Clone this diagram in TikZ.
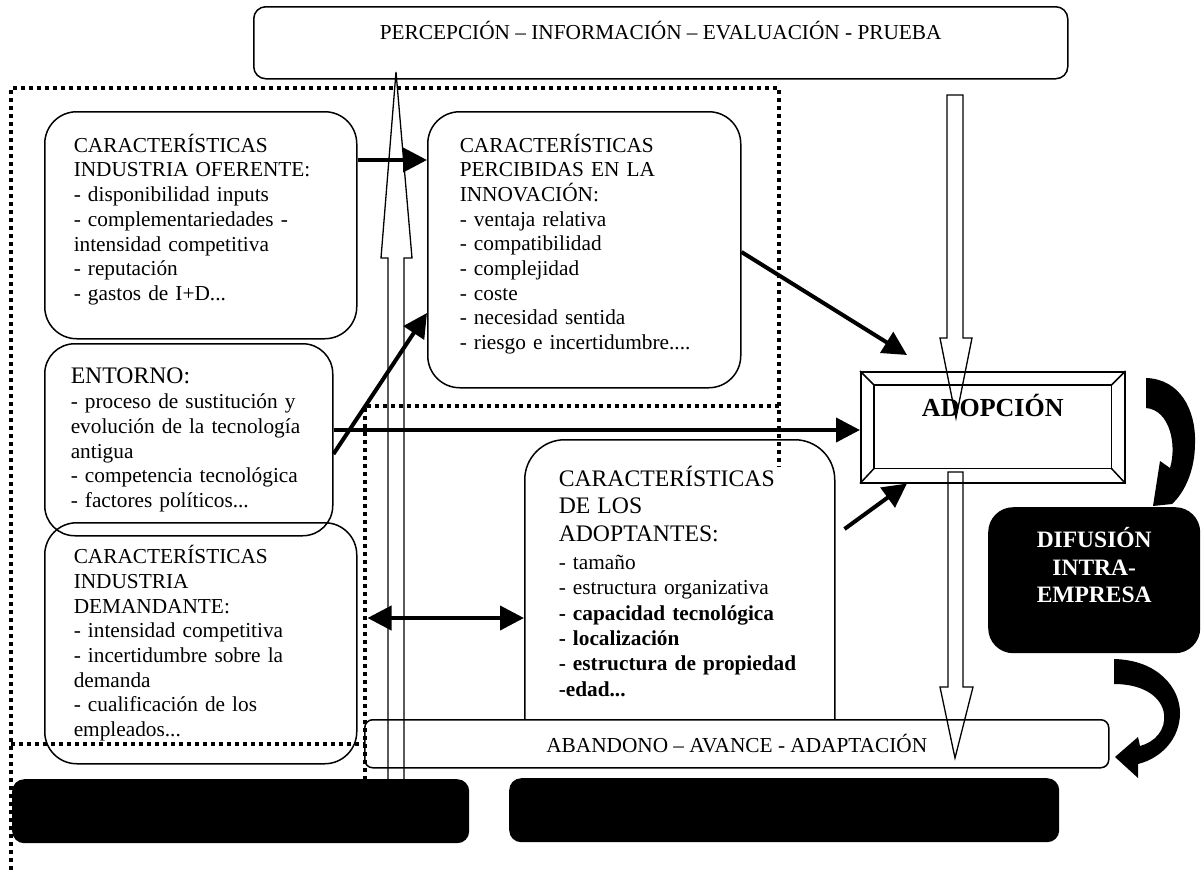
\documentclass[tikz,border=0pt]{standalone}
\usepackage{fontspec}
\setmainfont{Liberation Serif}
\usetikzlibrary{arrows.meta,positioning,calc}
\tikzset{%
    >={Triangle[width=24pt,length=24pt]},
    % Estilos de los nodos
    texto/.style = {font=\fontsize{21.3}{24.7}\selectfont},
    caja/.style = {
        texto, draw, line width=1.5pt, rounded corners=32pt,
        anchor=north west, align=left, inner ysep=0pt
    },
    banda/.style = {
        texto, draw, line width=1.5pt, rounded corners=10pt,
        anchor=north west, align=center, inner sep=0pt, fill=white
    },
    barra/.style = {fill=black, rounded corners=12pt, anchor=north west, inner sep=0pt},
    flecha/.style = {->, line width=4pt},
    hueca/.style = {draw, line width=1.3pt},
    punteado/.style = {line width=4pt, dash pattern=on 4pt off 4pt},
    curva/.style = {fill=black}
}
\begin{document}
\begin{tikzpicture}[x=1pt, y=-1pt]
\useasboundingbox (0,0) rectangle (1202,870);
% Cajas (posicion, etc.)
\node (etapas)      [banda, rounded corners=12pt, minimum width=814pt, minimum height=72pt] at (253,6)
    {PERCEPCIÓN – INFORMACIÓN – EVALUACIÓN - PRUEBA\rule[-25pt]{0pt}{25pt}};
\node (oferente)    [caja, text width=254pt, inner xsep=29pt, minimum height=227pt] at (44,111)
    {CARACTERÍSTICAS\\INDUSTRIA OFERENTE:\\- disponibilidad inputs\\- complementariedades -\\intensidad competitiva\\- reputación\\- gastos de I+D...\rule[-16pt]{0pt}{16pt}};
\node (percibidas)  [caja, text width=249pt, inner xsep=32pt, minimum height=276pt] at (427,111)
    {CARACTERÍSTICAS\\PERCIBIDAS EN LA\\INNOVACIÓN:\\- ventaja relativa\\- compatibilidad\\- complejidad\\- coste\\- necesidad sentida\\- riesgo e incertidumbre....\rule[-16pt]{0pt}{16pt}};
\node (entorno)     [caja, rounded corners=30pt, text width=236pt, inner xsep=26pt, minimum height=192pt] at (44,343)
    {{\fontsize{23.7}{27}\selectfont ENTORNO:}\\[1pt]- proceso de sustitución y\\evolución de la tecnología\\antigua\\- competencia tecnológica\\- factores políticos...};
\node (demandante)  [caja, text width=254pt, inner xsep=29pt, minimum height=241pt] at (44,522)
    {CARACTERÍSTICAS\\INDUSTRIA\\DEMANDANTE:\\- intensidad competitiva\\- incertidumbre sobre la\\demanda\\- cualificación de los\\empleados...};
\node (adoptantes)  [caja, rounded corners=40pt, text width=242pt, inner xsep=34pt, minimum height=319pt,
                     font=\fontsize{21.3}{25.4}\selectfont] at (524,439)
    {{\fontsize{23.7}{27}\selectfont CARACTERÍSTICAS}\\[2pt]{\fontsize{23.7}{27}\selectfont DE LOS}\\[2pt]{\fontsize{23.7}{27}\selectfont ADOPTANTES:}\\[2.6pt]- tamaño\\- estructura organizativa\\\textbf{- capacidad tecnológica}\\\textbf{- localización}\\\textbf{- estructura de propiedad}\\\textbf{-edad...}\rule[-36pt]{0pt}{36pt}};
\node (abandono)    [banda, rounded corners=8pt, minimum width=744pt, minimum height=48pt] at (364,719)
    {ABANDONO – AVANCE - ADAPTACIÓN};
\node (adopcion)    [draw, line width=1.5pt, anchor=north west, minimum width=264pt, minimum height=111pt,
                     inner sep=0pt, font=\fontsize{26}{30}\selectfont\bfseries] at (860,371)
    {ADOPCIÓN\rule[-43pt]{0pt}{43pt}};
\node (difusion)    [fill=black, rounded corners=25pt, anchor=north west, minimum width=212pt, minimum height=146pt,
                     inner sep=0pt, align=center, text=white, font=\fontsize{23.5}{27.4}\selectfont\bfseries] at (988,507)
    {DIFUSIÓN\\INTRA-\\EMPRESA\rule[-30pt]{0pt}{30pt}};
% Marco biselado de la adopcion
\draw[line width=1.5pt] ([shift={(14,14)}]adopcion.north west) rectangle ([shift={(-14,-15)}]adopcion.south east);
\foreach \esq/\dx/\dy in {north west/14/14, north east/-14/14, south west/14/-15, south east/-14/-15}
    \draw[line width=1.5pt] (adopcion.\esq) -- ++(\dx,\dy);
% Puntos libres de las flechas
\coordinate (adopIn1)  at ($(adopcion.north west)+(47,-16)$);
\coordinate (adopIn2)  at ($(adopcion.south west)+(47,0)$);
\coordinate (adoptOut) at ($(adoptantes.north east)+(9,90)$);
% Flechas gruesas
\draw[flecha] (oferente.east |- 0,160) -- (percibidas.west |- 0,160);
\draw[flecha] (entorno.east |- 0,454) -- (percibidas.west |- 0,313);
\draw[flecha] (entorno.east |- 0,430) -- (adopcion.west |- 0,430);
\draw[flecha] (percibidas.east |- 0,252) -- (adopIn1);
\draw[flecha] (adoptOut) -- (adopIn2);
\draw[flecha, <->] ($(demandante.east |- 0,618)+(10,0)$) -- (adoptantes.west |- 0,618);
% Flechas huecas
\draw[hueca] (388,782) -- (388,258) -- (381,258) -- (396,72) -- (412,258) -- (404,258) -- (404,782);
\draw[hueca] (947,95) -- (963,95) -- (963,338) -- (972,338) -- (956,418) -- (940,338) -- (947,338) -- cycle;
\draw[hueca] (948,472) -- (963,472) -- (963,687) -- (973,687) -- (955,758) -- (940,687) -- (948,687) -- cycle;
% Lineas punteadas
\draw[punteado] (11,870) -- (11,88) -- (779,88) -- (779,467);
\draw[punteado] (11,744) -- (365,744);
\draw[punteado] (365,780) -- (365,406) -- (779,406);
% Flechas curvas
\fill[curva] (1146,378) .. controls (1180,379) and (1196,410) .. (1195,443)
    .. controls (1195,470) and (1185,492) .. (1172,504) -- (1153,506) -- (1160,461)
    -- (1170,468) .. controls (1177,445) and (1170,410) .. (1146,408) -- cycle;
\fill[curva] (1114,659) .. controls (1158,660) and (1180,688) .. (1180,713)
    .. controls (1180,738) and (1162,758) .. (1138,764) -- (1138,778) -- (1115,757) -- (1138,737)
    -- (1140,746) .. controls (1155,742) and (1166,730) .. (1164,714)
    .. controls (1162,698) and (1145,684) .. (1114,684) -- cycle;
% Barras negras
\node (barraIzq) [barra, minimum width=457pt, minimum height=64pt] at (12,779) {};
\node (barraDer) [barra, minimum width=550pt, minimum height=64pt] at (509,778) {};
\end{tikzpicture}
\end{document}
